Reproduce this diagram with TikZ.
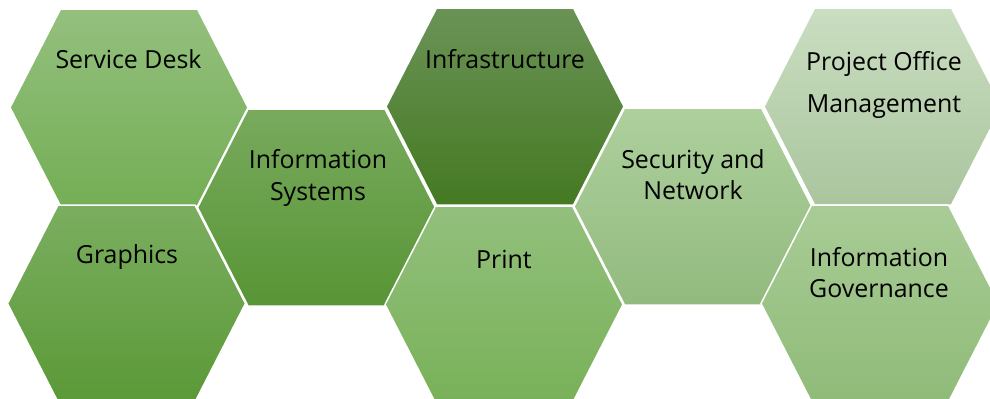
\documentclass[tikz,border=0pt]{standalone}
\usepackage{fontspec}
\setmainfont{Open Sans}
\definecolor{sdT}{HTML}{94C07E}\definecolor{sdB}{HTML}{74AE55}
\definecolor{grT}{HTML}{7BAE60}\definecolor{grB}{HTML}{5B9937}
\definecolor{isT}{HTML}{78AA5D}\definecolor{isB}{HTML}{589535}
\definecolor{inT}{HTML}{6A9356}\definecolor{inB}{HTML}{457922}
\definecolor{prT}{HTML}{93C07D}\definecolor{prB}{HTML}{78B158}
\definecolor{snT}{HTML}{AED09D}\definecolor{snB}{HTML}{92BA7E}
\definecolor{poT}{HTML}{CADEC1}\definecolor{poB}{HTML}{AAC59E}
\definecolor{igT}{HTML}{A9CC96}\definecolor{igB}{HTML}{8FBB78}
\newcommand\hexcell[4]{%
  \shade[top color=#3,bottom color=#4,draw=white,line width=1.5bp]
    (#1-119,#2) -- (#1-68.5,#2-98.5) -- (#1+68.5,#2-98.5) -- (#1+119,#2)
    -- (#1+68.5,#2+98.5) -- (#1-68.5,#2+98.5) -- cycle;}
\begin{document}
\begin{tikzpicture}[x=1bp,y=-1bp,
  lbl/.style={anchor=base,inner sep=0pt,text=black,font=\fontsize{25}{30}\selectfont}]
\useasboundingbox (0,0) rectangle (990,398);
\clip (0,0) rectangle (990,398);
\hexcell{129}{107.5}{sdT}{sdB}
\hexcell{126.5}{303.5}{grT}{grB}
\hexcell{316.5}{207.5}{isT}{isB}
\hexcell{505}{106.5}{inT}{inB}
\hexcell{504}{304.5}{prT}{prB}
\hexcell{693}{206.5}{snT}{snB}
\hexcell{883}{106.5}{poT}{poB}
\hexcell{880}{303.5}{igT}{igB}
\node[lbl] (sd) at (128.5,68) {Service Desk};
\node[lbl] (gr) at (127,263) {Graphics};
\node[lbl] (is1) at (318,168) {Information};
\node[lbl] (is2) at (318,200) {Systems};
\node[lbl] (in) at (505,68) {Infrastructure};
\node[lbl] (pr) at (504,268) {Print};
\node[lbl] (sn1) at (693,168) {Security and};
\node[lbl] (sn2) at (693,199) {Network};
\node[lbl] (po1) at (884,70) {Project Office};
\node[lbl] (po2) at (884,112) {Management};
\node[lbl] (ig1) at (879,266) {Information};
\node[lbl] (ig2) at (879,297) {Governance};
\end{tikzpicture}
\end{document}
